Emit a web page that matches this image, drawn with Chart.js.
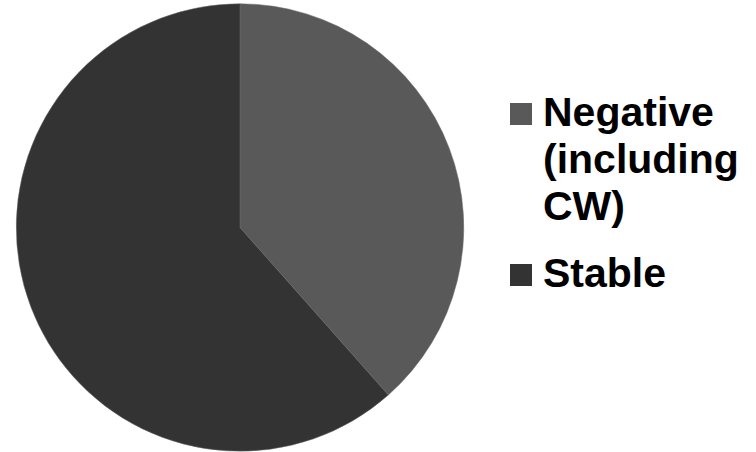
<!DOCTYPE html>
<html>
<head>
<meta charset="utf-8">
<script src="https://cdn.jsdelivr.net/npm/chart.js@4"></script>
<style>
  body { margin: 0; background: #fff; width: 756px; height: 452px; overflow: hidden; position: relative; }
  #wrap { position: absolute; left: 0; top: 0; width: 480px; height: 452px; }
  #legend { position: absolute; left: 510px; top: 89px; width: 246px; font-family: "Liberation Sans", Arial, sans-serif; font-weight: bold; font-size: 41px; line-height: 47px; color: #000; }
  .item { position: relative; padding-left: 33px; margin-bottom: 20px; }
  .box { position: absolute; left: 0; top: 14px; width: 22px; height: 22px; }
</style>
</head>
<body>
<div id="wrap"><canvas id="pieChart" width="480" height="452"></canvas></div>
<div id="legend"></div>
<script>
// chart data
var categories = ['Negative (including CW)', 'Stable'];
var values = [5, 8];
var colors = ['#595959', '#333333'];

var ctx = document.getElementById('pieChart').getContext('2d');
var pieChart = new Chart(ctx, {
  type: 'pie',
  data: {
    labels: categories,
    datasets: [{
      data: values,
      backgroundColor: colors,
      borderColor: '#6a6a6a',
      borderWidth: 0.5
    }]
  },
  options: {
    responsive: false,
    animation: false,
    layout: {
      padding: { left: 16, right: 16, top: 3, bottom: 0 }
    },
    plugins: {
      legend: { display: false },
      tooltip: { enabled: false }
    }
  }
});

// html legend so the long label wraps like the original
var legend = document.getElementById('legend');
categories.forEach(function (name, i) {
  var item = document.createElement('div');
  item.className = 'item';
  var box = document.createElement('span');
  box.className = 'box';
  box.style.background = colors[i];
  item.appendChild(box);
  item.appendChild(document.createTextNode(name));
  legend.appendChild(item);
});
</script>
</body>
</html>
